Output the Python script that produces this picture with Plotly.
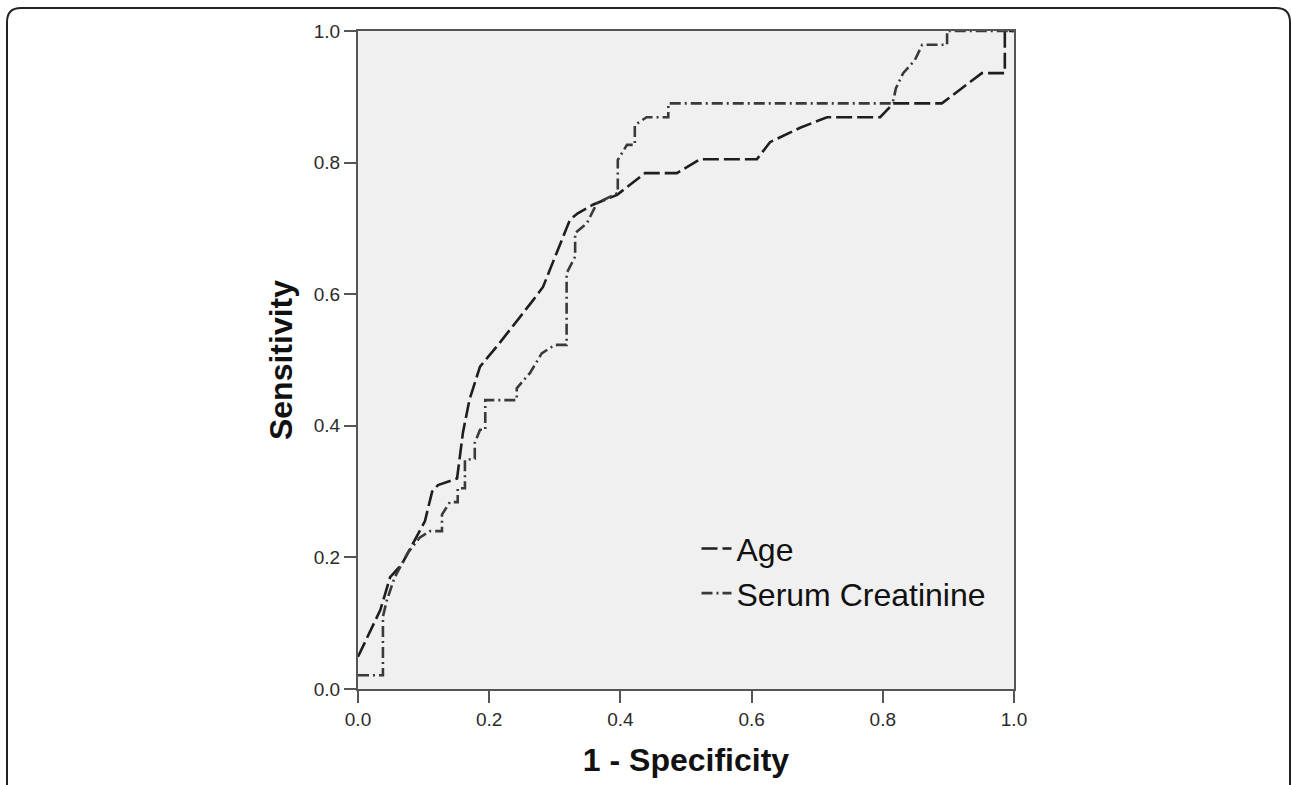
import plotly.graph_objects as go

# ---- data ----
age_fpr = [0.0, 0.034, 0.049, 0.067, 0.102, 0.113, 0.122, 0.151, 0.16, 0.17, 0.186,
           0.216, 0.267, 0.282, 0.323, 0.335, 0.358, 0.395, 0.4375, 0.486, 0.521,
           0.608, 0.628, 0.674, 0.715, 0.796, 0.816, 0.89, 0.951, 0.986, 0.986, 1.0]
age_tpr = [0.049, 0.12, 0.17, 0.19, 0.255, 0.30, 0.31, 0.32, 0.39, 0.44, 0.49,
           0.526, 0.591, 0.611, 0.713, 0.723, 0.736, 0.751, 0.784, 0.784, 0.805,
           0.805, 0.831, 0.853, 0.869, 0.869, 0.89, 0.89, 0.936, 0.936, 1.0, 1.0]

cr_fpr = [0.0, 0.038, 0.038, 0.044, 0.056, 0.076, 0.094, 0.11, 0.128, 0.128,
          0.14, 0.152, 0.152, 0.163, 0.163, 0.178, 0.178, 0.186, 0.194, 0.194,
          0.242, 0.242, 0.262, 0.28, 0.30, 0.318, 0.318, 0.331, 0.331, 0.349,
          0.364, 0.396, 0.396, 0.41, 0.422, 0.422, 0.44, 0.473, 0.473, 0.815,
          0.82, 0.831, 0.849, 0.86, 0.898, 0.898, 1.0]
cr_tpr = [0.021, 0.021, 0.11, 0.135, 0.17, 0.207, 0.23, 0.24, 0.24, 0.265,
          0.284, 0.284, 0.305, 0.305, 0.348, 0.35, 0.374, 0.394, 0.394, 0.439,
          0.439, 0.457, 0.48, 0.51, 0.523, 0.523, 0.632, 0.657, 0.693, 0.708,
          0.738, 0.754, 0.804, 0.827, 0.827, 0.857, 0.869, 0.869, 0.89, 0.89,
          0.913, 0.936, 0.956, 0.979, 0.979, 1.0, 1.0]

tick_vals = [0.0, 0.2, 0.4, 0.6, 0.8, 1.0]
tick_text = ["0.0", "0.2", "0.4", "0.6", "0.8", "1.0"]

# ---- layout geometry ----
W, H = 1292, 785
L, R, T, B = 358, 1014, 31, 689


def px(x):
    return (x - L) / (R - L)


def py(y):
    return (B - y) / (B - T)


fig = go.Figure()
fig.add_trace(go.Scatter(x=age_fpr, y=age_tpr, mode="lines", name="Age",
                         line=dict(color="#1e1e1e", width=2.6, dash="16px,5px")))
fig.add_trace(go.Scatter(x=cr_fpr, y=cr_tpr, mode="lines", name="Serum Creatinine",
                         line=dict(color="#3a3a3a", width=2.6, dash="11px,4px,2px,4px")))

# outer rounded frame
r = 14
x0, x1, y0, y1 = 7, 1290, 8, 820
path = (f"M {px(x0 + r)},{py(y0)} L {px(x1 - r)},{py(y0)} "
        f"Q {px(x1)},{py(y0)} {px(x1)},{py(y0 + r)} L {px(x1)},{py(y1)} "
        f"M {px(x0)},{py(y1)} L {px(x0)},{py(y0 + r)} "
        f"Q {px(x0)},{py(y0)} {px(x0 + r)},{py(y0)}")
fig.add_shape(type="path", xref="paper", yref="paper", path=path,
              line=dict(color="#222222", width=2), layer="above")

axis_common = dict(
    range=[0, 1], tickvals=tick_vals, ticktext=tick_text,
    showgrid=False, zeroline=False, showline=True, mirror=True,
    linecolor="#555555", linewidth=2, ticks="outside", ticklen=12,
    tickwidth=2, tickcolor="#555555",
    tickfont=dict(family="Liberation Sans, Arial", size=19, color="#2a2a2a"),
)

fig.update_layout(
    width=W, height=H,
    margin=dict(l=L, r=W - R, t=T, b=H - B),
    paper_bgcolor="white", plot_bgcolor="#f0f0f0",
    xaxis=dict(**axis_common,
               title=dict(text="<b>1 - Specificity</b>", standoff=20,
                          font=dict(family="Liberation Sans, Arial", size=32, color="#111"))),
    yaxis=dict(**axis_common,
               title=dict(text="<b>Sensitivity</b>", standoff=12,
                          font=dict(family="Liberation Sans, Arial", size=32, color="#111"))),
    legend=dict(x=0.516, y=0.255, xanchor="left", yanchor="top",
                bgcolor="rgba(0,0,0,0)", borderwidth=0,
                font=dict(family="Liberation Sans, Arial", size=32, color="#111"),
                itemwidth=30, tracegroupgap=0),
    showlegend=True,
)

fig.write_html("out.html")
